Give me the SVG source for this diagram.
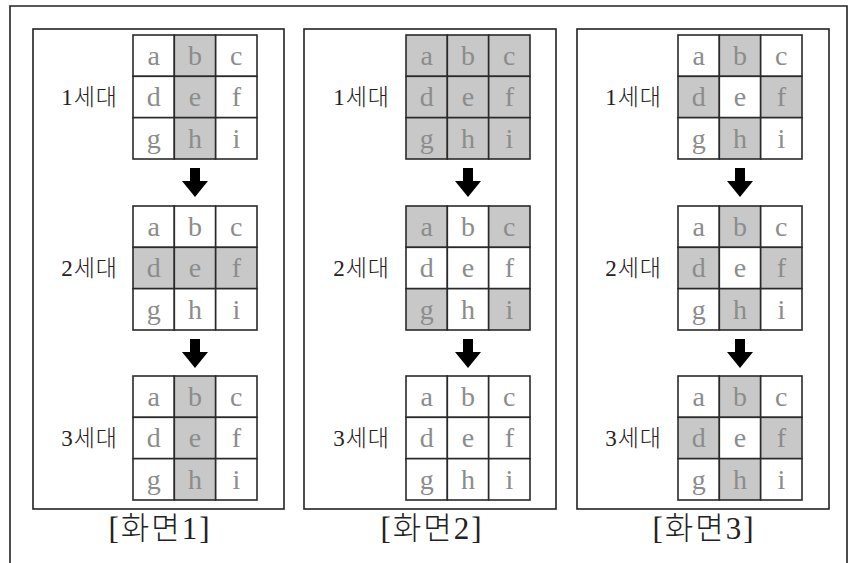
<svg xmlns="http://www.w3.org/2000/svg" width="853" height="563" viewBox="0 0 853 563">
<style>
.frame{fill:none;stroke:#222;stroke-width:1.6}
.panel{fill:#fff;stroke:#222;stroke-width:1.6}
.off{fill:#fff;stroke:#2a2a2a;stroke-width:1.6}
.on{fill:#c8c8c8;stroke:#2a2a2a;stroke-width:1.6}
.lt{font-family:"Liberation Serif","DejaVu Serif",serif;font-size:28px;fill:#8c8c8c;text-anchor:middle}
.lbl{font-family:"Liberation Serif","Noto Sans CJK KR",serif;font-size:23px;font-weight:300;fill:#222;text-anchor:end;letter-spacing:1px}
.cap{font-family:"Liberation Serif","Noto Sans CJK KR",serif;font-size:31px;font-weight:300;fill:#222;text-anchor:middle;letter-spacing:2px}
.arr{fill:#000}
</style>
<defs>
<path id="arrow" d="M-5,0 H5 V13 H13 L0,29 L-13,13 H-5 Z"/>
</defs>
<rect width="853" height="563" fill="#fff"/>
<path class="frame" d="M10,570 V6 H847 V570"/>

<g id="panel1">
<rect class="panel" x="33" y="29" width="251" height="480"/>
</g>
<g id="panel2">
<rect class="panel" x="304" y="29" width="252" height="480"/>
</g>
<g id="panel3">
<rect class="panel" x="577" y="29" width="252" height="480"/>
</g>

<!-- panel 1 grids -->
<g id="p1g1" transform="translate(133,35)">
<rect class="off" x="0" y="0" width="41.33" height="41.33"/><rect class="on" x="41.33" y="0" width="41.33" height="41.33"/><rect class="off" x="82.67" y="0" width="41.33" height="41.33"/>
<rect class="off" x="0" y="41.33" width="41.33" height="41.33"/><rect class="on" x="41.33" y="41.33" width="41.33" height="41.33"/><rect class="off" x="82.67" y="41.33" width="41.33" height="41.33"/>
<rect class="off" x="0" y="82.67" width="41.33" height="41.33"/><rect class="on" x="41.33" y="82.67" width="41.33" height="41.33"/><rect class="off" x="82.67" y="82.67" width="41.33" height="41.33"/>
<text class="lt" x="20.67" y="30">a</text><text class="lt" x="62" y="30">b</text><text class="lt" x="103.33" y="30">c</text>
<text class="lt" x="20.67" y="71.33">d</text><text class="lt" x="62" y="71.33">e</text><text class="lt" x="103.33" y="71.33">f</text>
<text class="lt" x="20.67" y="112.67">g</text><text class="lt" x="62" y="112.67">h</text><text class="lt" x="103.33" y="112.67">i</text>
</g>
<g id="p1g2" transform="translate(133,206)">
<rect class="off" x="0" y="0" width="41.33" height="41.33"/><rect class="off" x="41.33" y="0" width="41.33" height="41.33"/><rect class="off" x="82.67" y="0" width="41.33" height="41.33"/>
<rect class="on" x="0" y="41.33" width="41.33" height="41.33"/><rect class="on" x="41.33" y="41.33" width="41.33" height="41.33"/><rect class="on" x="82.67" y="41.33" width="41.33" height="41.33"/>
<rect class="off" x="0" y="82.67" width="41.33" height="41.33"/><rect class="off" x="41.33" y="82.67" width="41.33" height="41.33"/><rect class="off" x="82.67" y="82.67" width="41.33" height="41.33"/>
<text class="lt" x="20.67" y="30">a</text><text class="lt" x="62" y="30">b</text><text class="lt" x="103.33" y="30">c</text>
<text class="lt" x="20.67" y="71.33">d</text><text class="lt" x="62" y="71.33">e</text><text class="lt" x="103.33" y="71.33">f</text>
<text class="lt" x="20.67" y="112.67">g</text><text class="lt" x="62" y="112.67">h</text><text class="lt" x="103.33" y="112.67">i</text>
</g>
<g id="p1g3" transform="translate(133,376)">
<rect class="off" x="0" y="0" width="41.33" height="41.33"/><rect class="on" x="41.33" y="0" width="41.33" height="41.33"/><rect class="off" x="82.67" y="0" width="41.33" height="41.33"/>
<rect class="off" x="0" y="41.33" width="41.33" height="41.33"/><rect class="on" x="41.33" y="41.33" width="41.33" height="41.33"/><rect class="off" x="82.67" y="41.33" width="41.33" height="41.33"/>
<rect class="off" x="0" y="82.67" width="41.33" height="41.33"/><rect class="on" x="41.33" y="82.67" width="41.33" height="41.33"/><rect class="off" x="82.67" y="82.67" width="41.33" height="41.33"/>
<text class="lt" x="20.67" y="30">a</text><text class="lt" x="62" y="30">b</text><text class="lt" x="103.33" y="30">c</text>
<text class="lt" x="20.67" y="71.33">d</text><text class="lt" x="62" y="71.33">e</text><text class="lt" x="103.33" y="71.33">f</text>
<text class="lt" x="20.67" y="112.67">g</text><text class="lt" x="62" y="112.67">h</text><text class="lt" x="103.33" y="112.67">i</text>
</g>

<!-- panel 2 grids -->
<g id="p2g1" transform="translate(406,35)">
<rect class="on" x="0" y="0" width="41.33" height="41.33"/><rect class="on" x="41.33" y="0" width="41.33" height="41.33"/><rect class="on" x="82.67" y="0" width="41.33" height="41.33"/>
<rect class="on" x="0" y="41.33" width="41.33" height="41.33"/><rect class="on" x="41.33" y="41.33" width="41.33" height="41.33"/><rect class="on" x="82.67" y="41.33" width="41.33" height="41.33"/>
<rect class="on" x="0" y="82.67" width="41.33" height="41.33"/><rect class="on" x="41.33" y="82.67" width="41.33" height="41.33"/><rect class="on" x="82.67" y="82.67" width="41.33" height="41.33"/>
<text class="lt" x="20.67" y="30">a</text><text class="lt" x="62" y="30">b</text><text class="lt" x="103.33" y="30">c</text>
<text class="lt" x="20.67" y="71.33">d</text><text class="lt" x="62" y="71.33">e</text><text class="lt" x="103.33" y="71.33">f</text>
<text class="lt" x="20.67" y="112.67">g</text><text class="lt" x="62" y="112.67">h</text><text class="lt" x="103.33" y="112.67">i</text>
</g>
<g id="p2g2" transform="translate(406,206)">
<rect class="on" x="0" y="0" width="41.33" height="41.33"/><rect class="off" x="41.33" y="0" width="41.33" height="41.33"/><rect class="on" x="82.67" y="0" width="41.33" height="41.33"/>
<rect class="off" x="0" y="41.33" width="41.33" height="41.33"/><rect class="off" x="41.33" y="41.33" width="41.33" height="41.33"/><rect class="off" x="82.67" y="41.33" width="41.33" height="41.33"/>
<rect class="on" x="0" y="82.67" width="41.33" height="41.33"/><rect class="off" x="41.33" y="82.67" width="41.33" height="41.33"/><rect class="on" x="82.67" y="82.67" width="41.33" height="41.33"/>
<text class="lt" x="20.67" y="30">a</text><text class="lt" x="62" y="30">b</text><text class="lt" x="103.33" y="30">c</text>
<text class="lt" x="20.67" y="71.33">d</text><text class="lt" x="62" y="71.33">e</text><text class="lt" x="103.33" y="71.33">f</text>
<text class="lt" x="20.67" y="112.67">g</text><text class="lt" x="62" y="112.67">h</text><text class="lt" x="103.33" y="112.67">i</text>
</g>
<g id="p2g3" transform="translate(406,376)">
<rect class="off" x="0" y="0" width="41.33" height="41.33"/><rect class="off" x="41.33" y="0" width="41.33" height="41.33"/><rect class="off" x="82.67" y="0" width="41.33" height="41.33"/>
<rect class="off" x="0" y="41.33" width="41.33" height="41.33"/><rect class="off" x="41.33" y="41.33" width="41.33" height="41.33"/><rect class="off" x="82.67" y="41.33" width="41.33" height="41.33"/>
<rect class="off" x="0" y="82.67" width="41.33" height="41.33"/><rect class="off" x="41.33" y="82.67" width="41.33" height="41.33"/><rect class="off" x="82.67" y="82.67" width="41.33" height="41.33"/>
<text class="lt" x="20.67" y="30">a</text><text class="lt" x="62" y="30">b</text><text class="lt" x="103.33" y="30">c</text>
<text class="lt" x="20.67" y="71.33">d</text><text class="lt" x="62" y="71.33">e</text><text class="lt" x="103.33" y="71.33">f</text>
<text class="lt" x="20.67" y="112.67">g</text><text class="lt" x="62" y="112.67">h</text><text class="lt" x="103.33" y="112.67">i</text>
</g>

<!-- panel 3 grids -->
<g id="p3g1" transform="translate(678,35)">
<rect class="off" x="0" y="0" width="41.33" height="41.33"/><rect class="on" x="41.33" y="0" width="41.33" height="41.33"/><rect class="off" x="82.67" y="0" width="41.33" height="41.33"/>
<rect class="on" x="0" y="41.33" width="41.33" height="41.33"/><rect class="off" x="41.33" y="41.33" width="41.33" height="41.33"/><rect class="on" x="82.67" y="41.33" width="41.33" height="41.33"/>
<rect class="off" x="0" y="82.67" width="41.33" height="41.33"/><rect class="on" x="41.33" y="82.67" width="41.33" height="41.33"/><rect class="off" x="82.67" y="82.67" width="41.33" height="41.33"/>
<text class="lt" x="20.67" y="30">a</text><text class="lt" x="62" y="30">b</text><text class="lt" x="103.33" y="30">c</text>
<text class="lt" x="20.67" y="71.33">d</text><text class="lt" x="62" y="71.33">e</text><text class="lt" x="103.33" y="71.33">f</text>
<text class="lt" x="20.67" y="112.67">g</text><text class="lt" x="62" y="112.67">h</text><text class="lt" x="103.33" y="112.67">i</text>
</g>
<g id="p3g2" transform="translate(678,206)">
<rect class="off" x="0" y="0" width="41.33" height="41.33"/><rect class="on" x="41.33" y="0" width="41.33" height="41.33"/><rect class="off" x="82.67" y="0" width="41.33" height="41.33"/>
<rect class="on" x="0" y="41.33" width="41.33" height="41.33"/><rect class="off" x="41.33" y="41.33" width="41.33" height="41.33"/><rect class="on" x="82.67" y="41.33" width="41.33" height="41.33"/>
<rect class="off" x="0" y="82.67" width="41.33" height="41.33"/><rect class="on" x="41.33" y="82.67" width="41.33" height="41.33"/><rect class="off" x="82.67" y="82.67" width="41.33" height="41.33"/>
<text class="lt" x="20.67" y="30">a</text><text class="lt" x="62" y="30">b</text><text class="lt" x="103.33" y="30">c</text>
<text class="lt" x="20.67" y="71.33">d</text><text class="lt" x="62" y="71.33">e</text><text class="lt" x="103.33" y="71.33">f</text>
<text class="lt" x="20.67" y="112.67">g</text><text class="lt" x="62" y="112.67">h</text><text class="lt" x="103.33" y="112.67">i</text>
</g>
<g id="p3g3" transform="translate(678,376)">
<rect class="off" x="0" y="0" width="41.33" height="41.33"/><rect class="on" x="41.33" y="0" width="41.33" height="41.33"/><rect class="off" x="82.67" y="0" width="41.33" height="41.33"/>
<rect class="on" x="0" y="41.33" width="41.33" height="41.33"/><rect class="off" x="41.33" y="41.33" width="41.33" height="41.33"/><rect class="on" x="82.67" y="41.33" width="41.33" height="41.33"/>
<rect class="off" x="0" y="82.67" width="41.33" height="41.33"/><rect class="on" x="41.33" y="82.67" width="41.33" height="41.33"/><rect class="off" x="82.67" y="82.67" width="41.33" height="41.33"/>
<text class="lt" x="20.67" y="30">a</text><text class="lt" x="62" y="30">b</text><text class="lt" x="103.33" y="30">c</text>
<text class="lt" x="20.67" y="71.33">d</text><text class="lt" x="62" y="71.33">e</text><text class="lt" x="103.33" y="71.33">f</text>
<text class="lt" x="20.67" y="112.67">g</text><text class="lt" x="62" y="112.67">h</text><text class="lt" x="103.33" y="112.67">i</text>
</g>

<!-- generation labels -->
<g id="labels1">
<text class="lbl" x="118" y="105">1세대</text>
<text class="lbl" x="118" y="276">2세대</text>
<text class="lbl" x="118" y="446">3세대</text>
</g>
<g id="labels2">
<text class="lbl" x="390" y="105">1세대</text>
<text class="lbl" x="390" y="276">2세대</text>
<text class="lbl" x="390" y="446">3세대</text>
</g>
<g id="labels3">
<text class="lbl" x="662" y="105">1세대</text>
<text class="lbl" x="662" y="276">2세대</text>
<text class="lbl" x="662" y="446">3세대</text>
</g>

<!-- captions -->
<g id="captions">
<text class="cap" x="160" y="539">[화면1]</text>
<text class="cap" x="432" y="539">[화면2]</text>
<text class="cap" x="704" y="539">[화면3]</text>
</g>

<!-- connectors -->
<g id="connectors" class="arr">
<use href="#arrow" transform="translate(195,168)"/>
<use href="#arrow" transform="translate(195,339)"/>
<use href="#arrow" transform="translate(468,168)"/>
<use href="#arrow" transform="translate(468,339)"/>
<use href="#arrow" transform="translate(740,168)"/>
<use href="#arrow" transform="translate(740,339)"/>
</g>
</svg>
